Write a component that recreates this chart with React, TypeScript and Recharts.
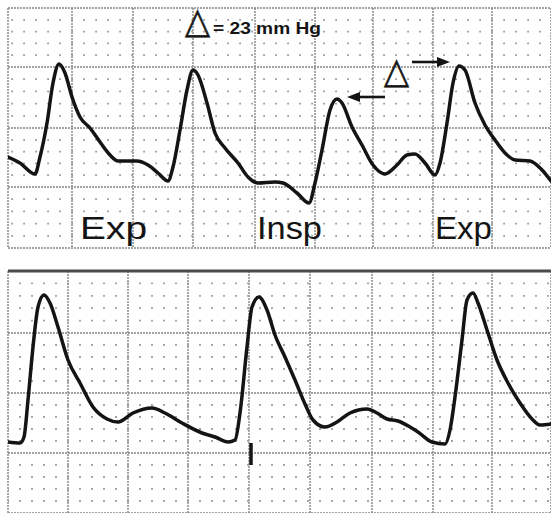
import React from 'react';
import { LineChart, Line, XAxis, YAxis, CartesianGrid, ReferenceLine, ReferenceDot } from 'recharts';

// Top trace (respirophasic variation): x = time position, y = pressure height
const topX = [8, 20, 35, 40, 47, 53, 59, 65, 72, 80, 90, 100, 110, 118, 137, 148, 158, 168, 173, 180, 187, 193, 198, 207, 215, 225, 238, 248, 258, 275, 283, 297, 309, 315, 322, 330, 337, 342, 352, 362, 373, 385, 397, 407, 415, 425, 435, 440, 447, 453, 459, 465, 475, 485, 495, 505, 515, 530, 542, 551];
const topY = [91, 85, 74, 91, 125, 165, 184, 175, 151, 131, 120, 106, 93, 87, 87, 83, 75, 67, 81, 118, 158, 178, 173, 145, 115, 100, 85, 71, 65, 66, 65, 55, 45, 65, 98, 138, 149, 145, 121, 103, 83, 74, 83, 93, 94, 85, 73, 85, 125, 165, 182, 178, 145, 123, 108, 95, 88, 87, 78, 67];

// Bottom trace
const bottomX = [8, 20, 24, 28, 33, 38, 44, 50, 58, 68, 80, 93, 107, 118, 133, 152, 165, 182, 202, 215, 228, 235, 240, 247, 252, 259, 267, 275, 285, 295, 305, 313, 325, 337, 350, 367, 377, 387, 398, 410, 418, 432, 445, 450, 455, 462, 467, 473, 478, 487, 497, 508, 520, 532, 540, 551];
const bottomY = [71, 70, 76, 113, 166, 206, 218, 210, 186, 153, 130, 106, 94, 91, 100, 105, 100, 90, 80, 76, 71, 73, 100, 166, 206, 216, 203, 178, 156, 133, 109, 93, 86, 91, 100, 104, 100, 94, 92, 86, 81, 71, 69, 83, 116, 173, 213, 220, 210, 183, 153, 130, 110, 94, 88, 89];

// Paper grid (major divisions)
const topGridX = [8, 72, 133, 193, 255, 315, 373, 433, 492];
const topGridY = [0, 61, 120, 181, 240];
const bottomGridX = [8, 68, 128, 188, 249, 310, 372, 433, 492];
const bottomGridY = [0, 60, 120, 180, 242];

// Annotations
const phaseLabels = ['Exp', 'Insp', 'Exp'];
const phaseX = [80, 257, 435];
const phaseWidth = [67, 65, 57];
const deltaSymbol = '△';
const deltaText = '= 23 mm Hg';
const markerX = 251;
const markerRange = [70, 48];

const INK = '#141414';
const GRID = '#858585';
const DOT = '#9c9c9c';
const FONT = '"Liberation Sans", Arial, Helvetica, sans-serif';

const topData = topX.map((x, i) => ({ x, y: topY[i] }));
const bottomData = bottomX.map((x, i) => ({ x, y: bottomY[i] }));

function minorRows(majors: number[]): number[] {
  const out: number[] = [];
  for (let i = 0; i < majors.length - 1; i++) {
    const a = majors[i];
    const b = majors[i + 1];
    for (let k = 1; k < 5; k++) out.push(a + ((b - a) * k) / 5);
  }
  return out;
}

const textShape = (label: string, size: number, width: number, weight: string | number = 'normal', family: string = FONT, stroke = 0) =>
  (p: any) => (
    <text
      x={p.cx}
      y={p.cy}
      fontSize={size}
      fontFamily={family}
      fontWeight={weight}
      fill={INK}
      stroke={stroke ? INK : 'none'}
      strokeWidth={stroke}
      textLength={width}
      lengthAdjust="spacingAndGlyphs"
    >
      {label}
    </text>
  );

const arrowShape = (dir: number) => (p: any) => {
  const cx = p.cx;
  const cy = p.cy;
  return (
    <g>
      <line x1={cx - dir * 8} y1={cy} x2={cx - dir * 38} y2={cy} stroke={INK} strokeWidth={2.6} />
      <polygon points={`${cx},${cy} ${cx - dir * 13},${cy - 5} ${cx - dir * 13},${cy + 5}`} fill={INK} />
    </g>
  );
};

export default function App() {
  const topMinor = minorRows(topGridY);
  const bottomMinor = minorRows(bottomGridY);
  const triFont = '"DejaVu Sans", sans-serif';
  return (
    <div style={{ position: 'absolute', left: 0, top: 0, width: 551, height: 513, background: '#fff', overflow: 'hidden' }}>
      <div style={{ position: 'absolute', left: 0, top: 0 }}>
        <LineChart width={551} height={256} data={topData} margin={{ top: 8, right: 0, bottom: 8, left: 8 }}>
          <XAxis dataKey="x" type="number" domain={[8, 551]} ticks={topGridX} hide allowDataOverflow />
          <YAxis type="number" domain={[0, 240]} ticks={topGridY} hide allowDataOverflow />
          <CartesianGrid stroke={GRID} strokeWidth={1.4} strokeDasharray="2 1" />
          {topMinor.map((v) => (
            <ReferenceLine key={'tm' + v} y={v} stroke={DOT} strokeWidth={1.8} strokeDasharray="1.8 10.2" strokeDashoffset={8.8} />
          ))}
          <Line type="monotone" dataKey="y" stroke={INK} strokeWidth={3.5} dot={false} strokeLinejoin="round" strokeLinecap="round" isAnimationActive={false} />
          {phaseLabels.map((lab, i) => (
            <ReferenceDot key={'ph' + i} x={phaseX[i]} y={9} r={0} ifOverflow="visible" shape={textShape(lab, 32, phaseWidth[i])} />
          ))}
          <ReferenceDot x={185} y={215} r={0} ifOverflow="visible" shape={textShape(deltaSymbol, 36, 25, 'normal', triFont, 0.6)} />
          <ReferenceDot x={213} y={214} r={0} ifOverflow="visible" shape={textShape(deltaText, 16, 108, 'bold')} />
          <ReferenceDot x={384} y={165} r={0} ifOverflow="visible" shape={textShape(deltaSymbol, 36, 25, 'normal', triFont, 0.6)} />
          <ReferenceDot x={347} y={151} r={0} ifOverflow="visible" shape={arrowShape(-1)} />
          <ReferenceDot x={450} y={186} r={0} ifOverflow="visible" shape={arrowShape(1)} />
        </LineChart>
      </div>
      <div style={{ position: 'absolute', left: 0, top: 263 }}>
        <LineChart width={551} height={250} data={bottomData} margin={{ top: 8, right: 0, bottom: 0, left: 8 }}>
          <XAxis dataKey="x" type="number" domain={[8, 551]} ticks={bottomGridX} hide allowDataOverflow />
          <YAxis type="number" domain={[0, 242]} ticks={bottomGridY} hide allowDataOverflow />
          <CartesianGrid stroke={GRID} strokeWidth={1.4} strokeDasharray="2 1" />
          {bottomMinor.map((v) => (
            <ReferenceLine key={'bm' + v} y={v} stroke={DOT} strokeWidth={1.8} strokeDasharray="1.8 10.2" strokeDashoffset={0.9} />
          ))}
          <ReferenceLine y={242} stroke="#4a4a4a" strokeWidth={3} />
          <Line type="monotone" dataKey="y" stroke={INK} strokeWidth={3.5} dot={false} strokeLinejoin="round" strokeLinecap="round" isAnimationActive={false} />
          <ReferenceLine segment={[{ x: markerX, y: markerRange[0] }, { x: markerX, y: markerRange[1] }]} stroke={INK} strokeWidth={3.5} />
        </LineChart>
      </div>
    </div>
  );
}
